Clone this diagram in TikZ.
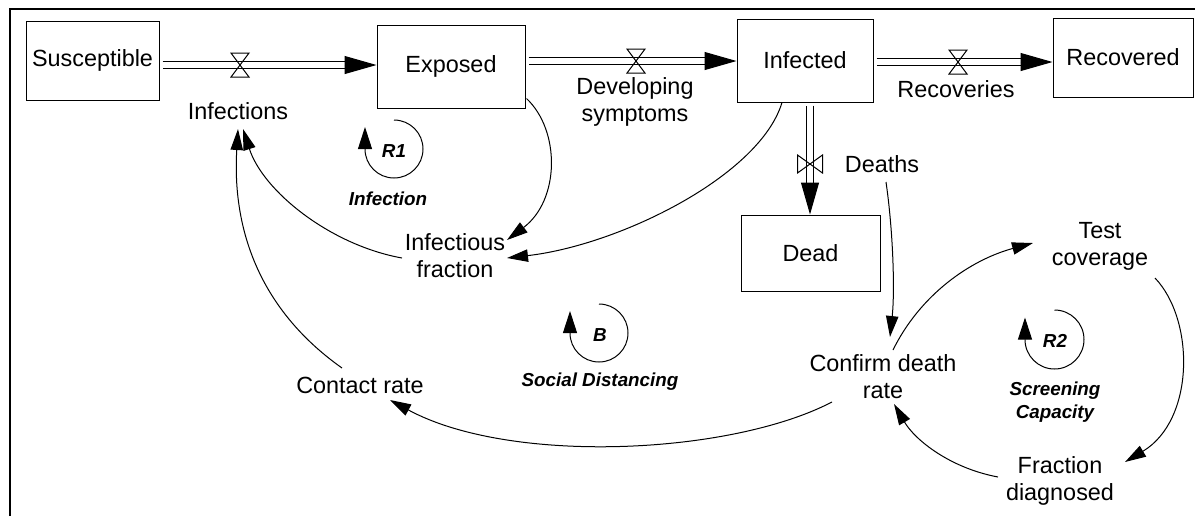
\documentclass[tikz,border=0pt]{standalone}
\usepackage{fontspec}
\setmainfont{Liberation Sans}
\usetikzlibrary{arrows.meta,calc}
\begin{document}
\begin{tikzpicture}[x=0.5pt,y=-0.5pt,
  stock/.style={draw,line width=0.5pt,inner sep=0pt,font=\fontsize{11.7}{13.5}\selectfont},
  lbl/.style={inner sep=0pt,align=center,font=\fontsize{11.7}{13.5}\selectfont},
  looplbl/.style={inner sep=0pt,align=center,font=\fontsize{9.4}{11.5}\selectfont\bfseries\itshape},
  pipe/.style={double,double distance=2.8pt,line width=0.5pt},
  flowtip/.style={line width=0.5pt,-{Triangle[length=16pt,width=9pt]}},
  link/.style={line width=0.5pt,-{Triangle[length=10.5pt,width=6.2pt]}},
  looparrow/.style={line width=0.5pt,-{Triangle[length=11pt,width=7pt]}},
  hvalve/.pic={\draw[line width=0.5pt] (-9,-12) -- (9,-12) -- (-9,12) -- (9,12) -- cycle;},
  vvalve/.pic={\draw[line width=0.5pt] (-12.5,-9) -- (-12.5,9) -- (12.5,-9) -- (12.5,9) -- cycle;}
]
\useasboundingbox (0,0) rectangle (1195,516);
% frame
\draw[line width=1pt] (10,516) -- (10,9) -- (1195,9);

% stocks
\node[stock,minimum width=66.5pt,minimum height=39.5pt] (S) at (92.5,60.5) {Susceptible};
\node[stock,minimum width=74pt,minimum height=41.5pt] (E) at (451,66.5) {Exposed};
\node[stock,minimum width=68pt,minimum height=41.5pt] (I) at (805,60.5) {Infected};
\node[stock,minimum width=70pt,minimum height=39.5pt] (R) at (1123,57.5) {Recovered};
\node[stock,minimum width=69.5pt,minimum height=38pt] (D) at (810.5,253) {Dead};

% valves
\coordinate (v1) at (240,65);
\coordinate (v2) at (636,61);
\coordinate (v3) at (958,62);
\coordinate (v4) at (810,164);

% flows
\draw[pipe] ($(S.east |- v1)+(3,0)$) -- ($(E.west |- v1)+(-30,0)$);
\draw[flowtip] ($(E.west |- v1)+(-32,0)$) -- (E.west |- v1);
\draw[pipe] ($(E.east |- v2)+(3,0)$) -- ($(I.west |- v2)+(-30,0)$);
\draw[flowtip] ($(I.west |- v2)+(-32,0)$) -- (I.west |- v2);
\draw[pipe] ($(I.east |- v3)+(3,0)$) -- ($(R.west |- v3)+(-30,0)$);
\draw[flowtip] ($(R.west |- v3)+(-32,0)$) -- (R.west |- v3);
\draw[pipe] ($(I.south -| v4)+(0,3)$) -- ($(D.north -| v4)+(0,-30)$);
\draw[flowtip] ($(D.north -| v4)+(0,-32)$) -- (D.north -| v4);
\pic at (v1) {hvalve};
\pic at (v2) {hvalve};
\pic at (v3) {hvalve};
\pic at (v4) {vvalve};

% flow labels
\node[lbl] (Inf) at (238,111) {Infections};
\node[lbl] (Dev) at (635,101.5) {Developing\\symptoms};
\node[lbl] (Rec) at (956,89.5) {Recoveries};
\node[lbl] (Dth) at (882,164.5) {Deaths};

% auxiliaries
\node[lbl] (IF) at (455,256) {Infectious\\fraction};
\node[lbl] (CR) at (360,385) {Contact rate};
\node[lbl] (CDR) at (883,377) {Confirm death\\rate};
\node[lbl] (TC) at (1100,246) {Test\\coverage};
\node[lbl] (FD) at (1060,481) {Fraction\\diagnosed};

% loops
\node[looplbl] (R1) at (394,151) {R1};
\node[looplbl] (R1n) at (388,198.5) {Infection};
\coordinate (c1) at (394,149);
\draw[looparrow] ($(c1)+(0,-29)$) arc[start angle=-90,end angle=180,radius=29] -- ++(0,-22);

\node[looplbl] (B) at (600,335) {B};
\node[looplbl] (Bn) at (600,382) {Social Distancing};
\coordinate (c2) at (599,333);
\draw[looparrow] ($(c2)+(0,-29)$) arc[start angle=-90,end angle=180,radius=29] -- ++(0,-22);

\node[looplbl] (R2) at (1055,341) {R2};
\node[looplbl] (R2n) at (1055,402) {Screening\\Capacity};
\coordinate (c3) at (1054.5,339.5);
\draw[looparrow] ($(c3)+(0,-29.5)$) arc[start angle=-90,end angle=180,radius=29.5] -- ++(0,-22);

% causal links
\draw[link] ($(E.south east)+(1,-10)$) .. controls +(34,32) and +(53,-40) .. ($(IF)+(52,-16)$);
\draw[link] ($(I.south)+(-23,0)$) .. controls +(-22,73) and +(113,-13) .. ($(IF)+(52,2)$);
\draw[link] ($(IF)+(-53,2)$) .. controls +(-72,-13) and +(20,62) .. ($(Inf)+(5,18)$);
\draw[link] ($(CR)+(-18,-17)$) .. controls +(-82,-58) and +(-6,101) .. ($(Inf)+(0,18)$);
\draw[link] ($(CDR)+(-51,25)$) .. controls +(-102,53) and +(120,65) .. ($(CR)+(30,15)$);
\draw[link] ($(Dth)+(4,17.5)$) .. controls +(7,48) and +(5,-47) .. ($(CDR)+(7,-40)$);
\draw[link] ($(CDR)+(10,-27)$) .. controls +(27,-55) and +(-63,17) .. ($(TC)+(-67,-3)$);
\draw[link] ($(TC)+(55,32)$) .. controls +(40,42) and +(70,-42) .. ($(FD)+(65,-19)$);
\draw[link] ($(FD)+(-62,-4)$) .. controls +(-48,-9) and +(21,36) .. ($(CDR)+(11,27)$);
\end{tikzpicture}
\end{document}
